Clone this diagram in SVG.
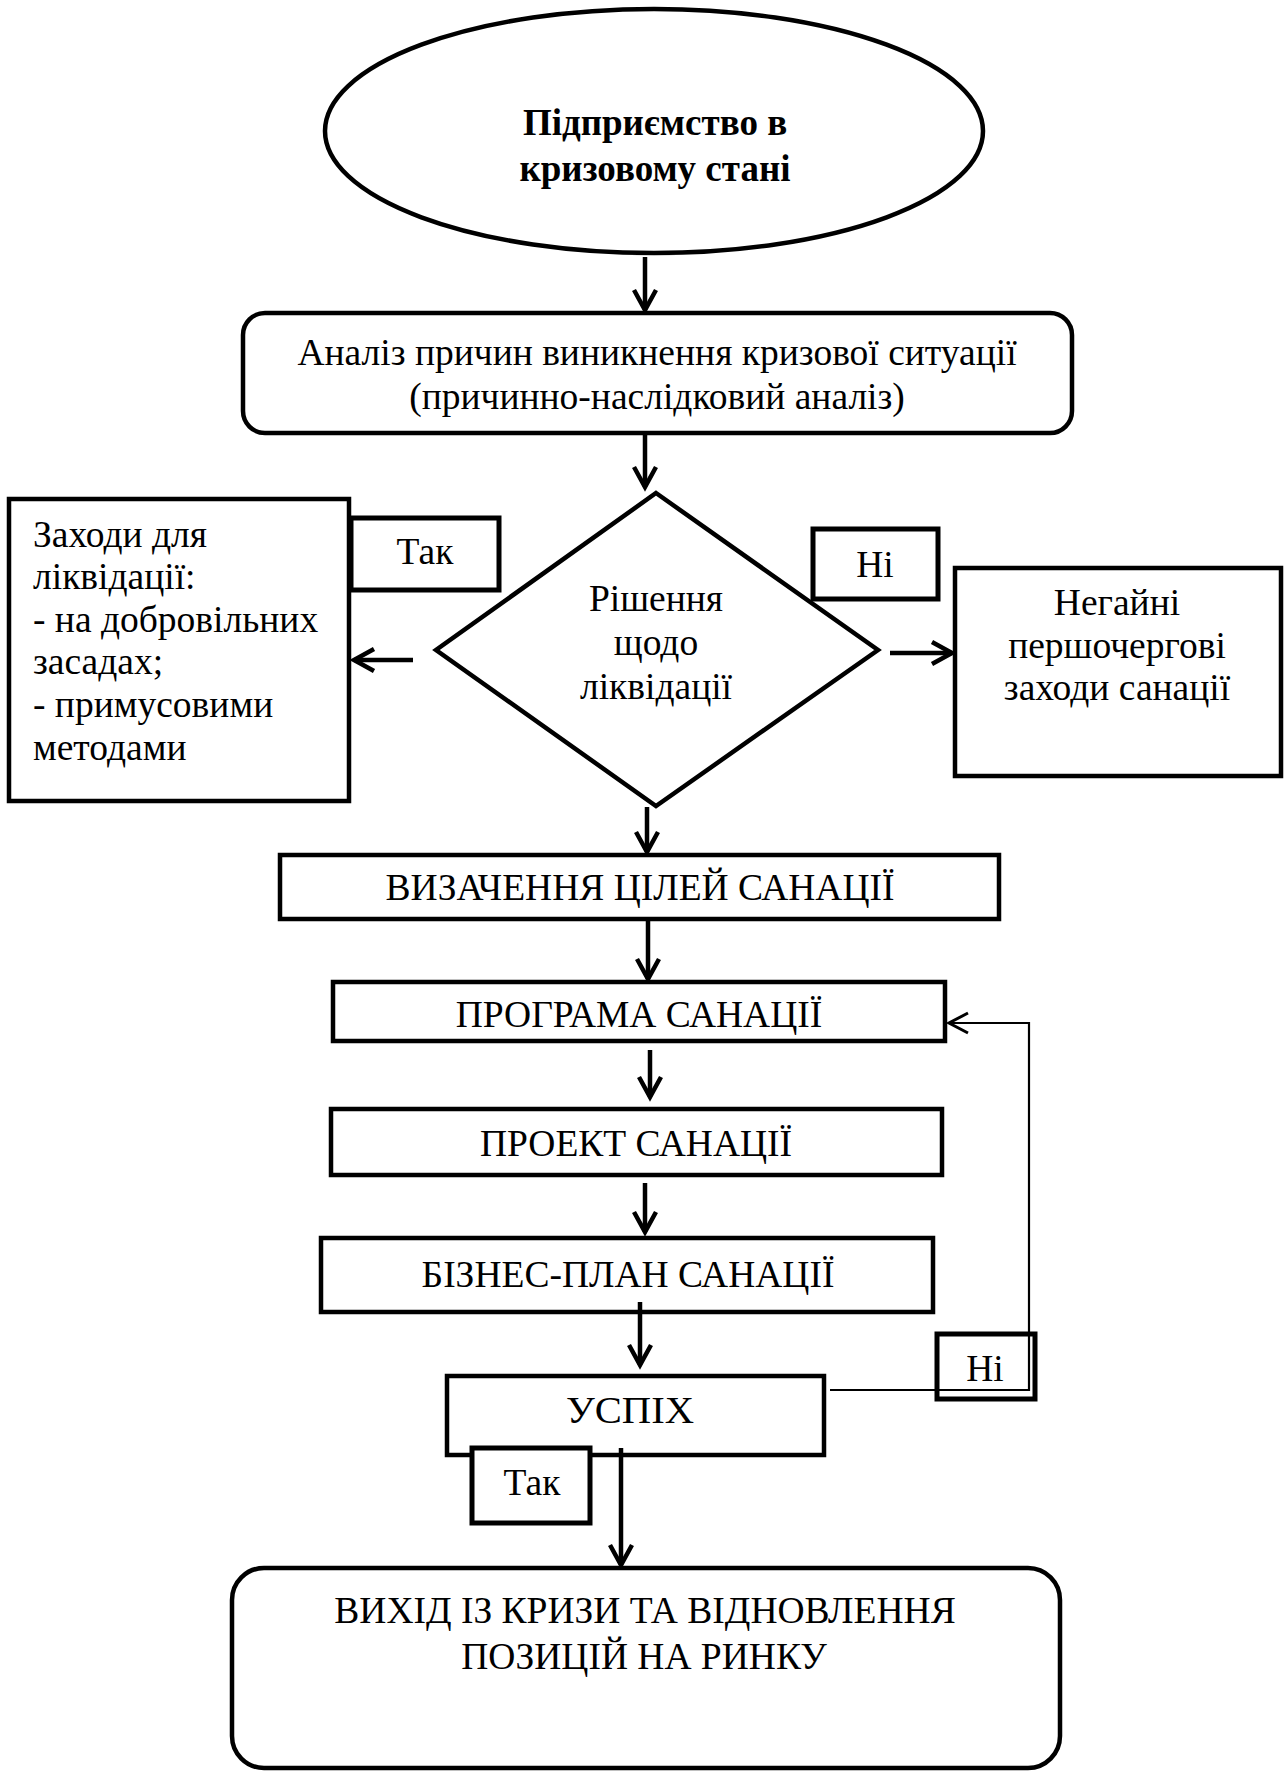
<svg xmlns="http://www.w3.org/2000/svg" width="1287" height="1773" viewBox="0 0 1287 1773">
<style>
  .box{fill:#fff;stroke:#000;stroke-width:4.5}
  .lbl{fill:#fff;stroke:#000;stroke-width:5}
  .t{font-family:"Liberation Serif","Times New Roman",serif;font-size:37.5px;fill:#000}
  .c{text-anchor:middle}
  .b{font-weight:bold;font-size:37px}
  .arr{fill:none;stroke:#000;stroke-width:4.5;marker-end:url(#ah)}
  .thin{fill:none;stroke:#000;stroke-width:2.2}
</style>
<defs>
  <marker id="ah" markerUnits="userSpaceOnUse" markerWidth="40" markerHeight="40" viewBox="-30 -20 40 40" refX="0" refY="0" orient="auto" overflow="visible">
    <path d="M-20,-11 L0,0 L-20,11" fill="none" stroke="#000" stroke-width="4.5"/>
  </marker>
  <marker id="ahs" markerUnits="userSpaceOnUse" markerWidth="40" markerHeight="40" viewBox="-30 -20 40 40" refX="0" refY="0" orient="auto" overflow="visible">
    <path d="M-19,-10 L0,0 L-19,10" fill="none" stroke="#000" stroke-width="3"/>
  </marker>
</defs>
<rect width="1287" height="1773" fill="#fff"/>

<g id="start">
  <ellipse class="box" cx="654" cy="131" rx="329" ry="122" stroke-width="4"/>
  <text class="t c b" x="655" y="135">Підприємство в</text>
  <text class="t c b" x="655" y="181">кризовому стані</text>
</g>

<g id="analysis">
  <rect class="box" x="243" y="313" width="829" height="120" rx="22"/>
  <text class="t c" x="657" y="365">Аналіз причин виникнення кризової ситуації</text>
  <text class="t c" x="657" y="409">(причинно-наслідковий аналіз)</text>
</g>

<g id="decision">
  <polygon class="box" points="656,493 878,650 656,806 436,650"/>
  <text class="t c" x="656" y="611">Рішення</text>
  <text class="t c" x="656" y="655">щодо</text>
  <text class="t c" x="656" y="699">ліквідації</text>
</g>

<g id="liquidation">
  <rect class="box" x="9" y="499" width="340" height="302"/>
  <text class="t" x="33" y="547">Заходи для</text>
  <text class="t" x="33" y="589">ліквідації:</text>
  <text class="t" x="33" y="632">- на добровільних</text>
  <text class="t" x="33" y="674">засадах;</text>
  <text class="t" x="33" y="717">- примусовими</text>
  <text class="t" x="33" y="760">методами</text>
</g>

<g id="label-yes-1">
  <rect class="lbl" x="351" y="518" width="148" height="72"/>
  <text class="t c" x="425" y="564">Так</text>
</g>

<g id="label-no-1">
  <rect class="lbl" x="813" y="529" width="125" height="70"/>
  <text class="t c" x="875" y="577">Ні</text>
</g>

<g id="urgent">
  <rect class="box" x="955" y="568" width="326" height="208"/>
  <text class="t c" x="1117" y="615">Негайні</text>
  <text class="t c" x="1117" y="658">першочергові</text>
  <text class="t c" x="1117" y="700">заходи санації</text>
</g>

<g id="goals">
  <rect class="box" x="280" y="855" width="719" height="64"/>
  <text class="t c" x="640" y="900">ВИЗАЧЕННЯ ЦІЛЕЙ САНАЦІЇ</text>
</g>

<g id="program">
  <rect class="box" x="333" y="982" width="612" height="59"/>
  <text class="t c" x="639" y="1027">ПРОГРАМА САНАЦІЇ</text>
</g>

<g id="project">
  <rect class="box" x="331" y="1109" width="611" height="66"/>
  <text class="t c" x="636" y="1156">ПРОЕКТ САНАЦІЇ</text>
</g>

<g id="bizplan">
  <rect class="box" x="321" y="1238" width="612" height="74"/>
  <text class="t c" x="628" y="1287">БІЗНЕС-ПЛАН САНАЦІЇ</text>
</g>

<g id="success">
  <rect class="box" x="447" y="1376" width="377" height="79"/>
  <text class="t c" x="630" y="1423" textLength="128" lengthAdjust="spacingAndGlyphs">УСПІХ</text>
</g>

<g id="label-yes-2">
  <rect class="lbl" x="472" y="1448" width="118" height="75"/>
  <text class="t c" x="532" y="1495">Так</text>
</g>

<g id="exit">
  <rect class="box" x="232" y="1568" width="828" height="200" rx="32"/>
  <text class="t c" x="645" y="1623">ВИХІД ІЗ КРИЗИ ТА ВІДНОВЛЕННЯ</text>
  <text class="t c" x="644" y="1669">ПОЗИЦІЙ НА РИНКУ</text>
</g>

<g id="connectors">
  <line class="arr" x1="645" y1="257" x2="645" y2="310"/>
  <line class="arr" x1="645" y1="433" x2="645" y2="487"/>
  <line class="arr" x1="413" y1="660" x2="354" y2="660"/>
  <line class="arr" x1="890" y1="653" x2="952" y2="653"/>
  <line class="arr" x1="647" y1="807" x2="647" y2="852"/>
  <line class="arr" x1="648" y1="919" x2="648" y2="979"/>
  <line class="arr" x1="650" y1="1050" x2="650" y2="1097"/>
  <line class="arr" x1="645" y1="1183" x2="645" y2="1232"/>
  <line class="arr" x1="640" y1="1302" x2="640" y2="1365"/>
  <line class="arr" x1="621" y1="1448" x2="621" y2="1565"/>
  <polyline class="thin" points="830,1390 1029,1390 1029,1023 949,1023" marker-end="url(#ahs)"/>
</g>

<g id="label-no-2">
  <rect x="937" y="1334" width="98" height="65" fill="none" stroke="#000" stroke-width="5"/>
  <text class="t c" x="985" y="1381">Ні</text>
</g>
</svg>
